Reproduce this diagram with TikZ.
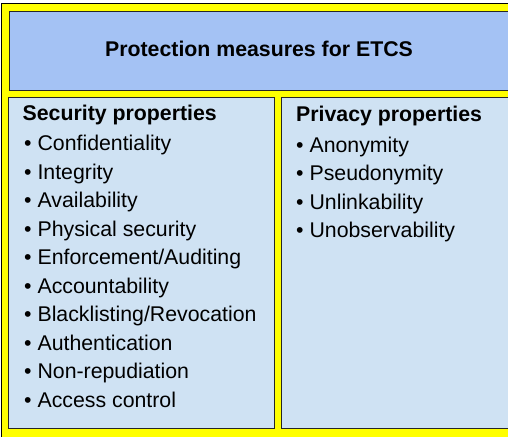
\documentclass[tikz,border=0pt]{standalone}
\usepackage{fontspec}
\setmainfont{Liberation Sans}
\definecolor{hdrblue}{RGB}{164,194,244}
\definecolor{boxblue}{RGB}{207,226,243}
\definecolor{frameyellow}{RGB}{255,255,0}
\begin{document}
\begin{tikzpicture}[x=1pt,y=-1pt,
  framebox/.style={fill=frameyellow,draw=black,line width=1.3pt},
  panel/.style={draw=black!85,line width=1pt},
  txt/.style={anchor=base west,inner sep=0pt,font=\fontsize{21.3}{25}\selectfont},
  hdr/.style={txt,font=\fontsize{21.3}{25}\selectfont\bfseries}]
\useasboundingbox (0,0) rectangle (508,436);
\clip (0,0) rectangle (508,436);
\path[framebox] (1.5,3.5) rectangle (530,460);
\path[panel,fill=hdrblue] (9,12) rectangle (530,90);
\path[panel,fill=boxblue] (8,97.5) rectangle (274.3,428);
\path[panel,fill=boxblue] (281.7,97.5) rectangle (530,428);
\node[hdr,anchor=base] (title) at (259,56.5) {Protection measures for ETCS};
\node[hdr] (sec) at (22.5,120) {Security properties};
\node[txt] (s1) at (24,150.5) {• Confidentiality};
\node[txt] (s2) at (24,179) {• Integrity};
\node[txt] (s3) at (24,207.5) {• Availability};
\node[txt] (s4) at (24,236) {• Physical security};
\node[txt] (s5) at (24,264.5) {• Enforcement/Auditing};
\node[txt] (s6) at (24,293) {• Accountability};
\node[txt] (s7) at (24,321.5) {• Blacklisting/Revocation};
\node[txt] (s8) at (24,350) {• Authentication};
\node[txt] (s9) at (24,378.5) {• Non-repudiation};
\node[txt] (s10) at (24,407) {• Access control};
\node[hdr] (priv) at (296,121) {Privacy properties};
\node[txt] (p1) at (296,152) {• Anonymity};
\node[txt] (p2) at (296,180.5) {• Pseudonymity};
\node[txt] (p3) at (296,209) {• Unlinkability};
\node[txt] (p4) at (296,237.5) {• Unobservability};
\end{tikzpicture}
\end{document}
